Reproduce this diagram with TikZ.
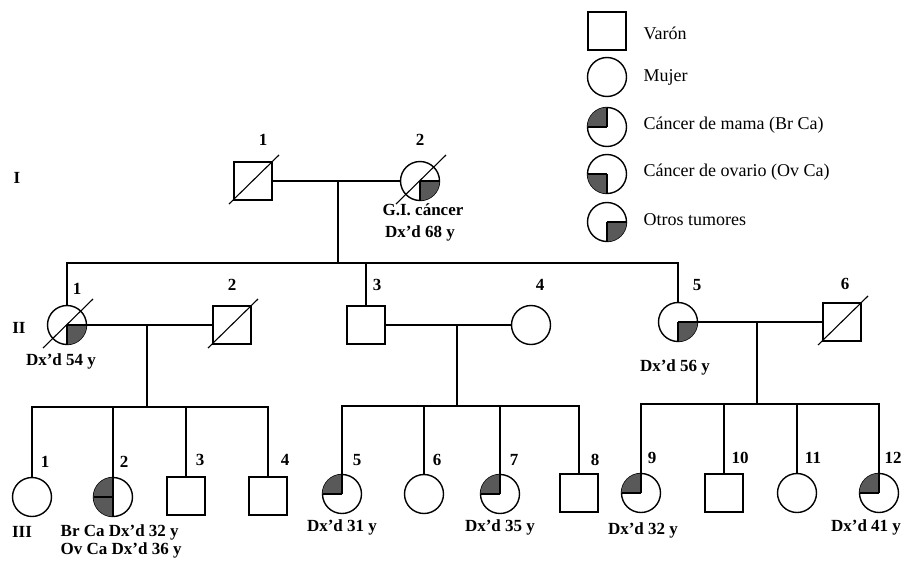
\documentclass[tikz,border=0pt]{standalone}
\usepackage{fontspec}
\setmainfont{Liberation Serif}
\usetikzlibrary{calc}
\newcommand{\qul}[1]{\fill[qfill] (#1.center) -- (#1.north) arc[start angle=90,end angle=180,radius=19.5pt] -- cycle;}
\newcommand{\qll}[1]{\fill[qfill] (#1.center) -- (#1.west) arc[start angle=180,end angle=270,radius=19.5pt] -- cycle;}
\newcommand{\qlr}[1]{\fill[qfill] (#1.center) -- (#1.south) arc[start angle=270,end angle=360,radius=19.5pt] -- cycle;}
\newcommand{\dead}[1]{\draw[deadline] ($(#1.center)+(-24,23)$) -- ($(#1.center)+(26,-26)$);}
\begin{document}
\begin{tikzpicture}[x=1pt,y=-1pt,line width=1.4pt,
  male/.style={draw,rectangle,minimum size=38pt,inner sep=0pt,outer sep=0pt},
  female/.style={draw,circle,minimum size=39pt,inner sep=0pt,outer sep=0pt},
  lbl/.style={font=\fontsize{17}{19}\selectfont\bfseries,inner sep=0pt},
  leg/.style={font=\fontsize{18}{20}\selectfont,anchor=west,inner sep=0pt},
  qfill/.style={fill=black!65},
  deadline/.style={line width=1.1pt}]
\useasboundingbox (0,0) rectangle (907,562);

% ---------- legend ----------
\node[male] (Lm) at (607,31) {};
\node[female] (Lf) at (607,77) {};
\node[female] (Lb) at (607,127) {};
\node[female] (Lo) at (607,174) {};
\node[female] (Lt) at (607,222) {};
\qul{Lb}\qll{Lo}\qlr{Lt}
\draw (Lb.center) -- (Lb.north); \draw (Lb.center) -- (Lb.west);
\draw (Lo.center) -- (Lo.south); \draw (Lo.center) -- (Lo.west);
\draw (Lt.center) -- (Lt.south); \draw (Lt.center) -- (Lt.east);
\node[leg] (Lmt) at (643,33) {Varón};
\node[leg] (Lft) at (643,77) {Mujer};
\node[leg] (Lbt) at (643,125) {Cáncer de mama (Br Ca)};
\node[leg] (Lot) at (643,172) {Cáncer de ovario (Ov Ca)};
\node[leg] (Ltt) at (643,220) {Otros tumores};

% ---------- generation labels ----------
\node[lbl] (gI) at (17,178) {I};
\node[lbl] (gII) at (19,328) {II};
\node[lbl] (gIII) at (22,532) {III};

% ---------- generation I ----------
\node[male] (I1) at (253,181) {};
\node[female] (I2) at (420,181) {};
\qlr{I2}
\draw (I2.center) -- (I2.south); \draw (I2.center) -- (I2.east);
\dead{I1}\dead{I2}
\node[lbl] (nI1) at (263,140) {1};
\node[lbl] (nI2) at (420,140) {2};
\node[lbl] (tI2a) at (423,210) {G.I. cáncer};
\node[lbl] (tI2b) at (420,233) {Dx’d 68 y};
\draw (I1) -- (I2);
\coordinate (mI) at (338,181);
\coordinate (sII) at (338,263);
\draw (mI) -- (sII);

% ---------- generation II ----------
\node[female] (II1) at (67,325) {};
\node[male] (II2) at (232,325) {};
\node[male] (II3) at (366,325) {};
\node[female] (II4) at (531,325) {};
\node[female] (II5) at (678,322) {};
\node[male] (II6) at (842,322) {};
\qlr{II1}\qlr{II5}
\draw (II1.center) -- (II1.south); \draw (II1.center) -- (II1.east);
\draw (II5.center) -- (II5.south); \draw (II5.center) -- (II5.east);
\dead{II1}\dead{II2}\dead{II6}
\draw (II1.north) -- (II1.north |- sII) -- (II5.north |- sII) -- (II5.north);
\draw (II3.north) -- (II3.north |- sII);
\node[lbl] (nII1) at (77,289) {1};
\node[lbl] (nII2) at (232,285) {2};
\node[lbl] (nII3) at (377,285) {3};
\node[lbl] (nII4) at (540,285) {4};
\node[lbl] (nII5) at (697,285) {5};
\node[lbl] (nII6) at (845,284) {6};
\node[lbl] (tII1) at (61,361) {Dx’d 54 y};
\node[lbl] (tII5) at (675,367) {Dx’d 56 y};
\draw (II1) -- (II2);
\draw (II3) -- (II4);
\draw (II5) -- (II6);
\coordinate (mA) at (147,325);
\coordinate (sA) at (147,407);
\coordinate (mB) at (457,325);
\coordinate (sB) at (457,406);
\coordinate (mC) at (757,322);
\coordinate (sC) at (757,404);
\draw (mA) -- (sA);
\draw (mB) -- (sB);
\draw (mC) -- (sC);

% ---------- generation III ----------
\node[female] (III1) at (32,497) {};
\node[female] (III2) at (113,497) {};
\node[male] (III3) at (186,496) {};
\node[male] (III4) at (268,496) {};
\node[female] (III5) at (342,494) {};
\node[female] (III6) at (424,494) {};
\node[female] (III7) at (500,494) {};
\node[male] (III8) at (579,493) {};
\node[female] (III9) at (641,493) {};
\node[male] (III10) at (724,493) {};
\node[female] (III11) at (797,493) {};
\node[female] (III12) at (879,493) {};
\qul{III2}\qll{III2}\qul{III5}\qul{III7}\qul{III9}\qul{III12}
\draw (III2.north) -- (III2.south); \draw (III2.center) -- (III2.west);
\foreach \n in {III5,III7,III9,III12}{\draw (\n.center) -- (\n.north); \draw (\n.center) -- (\n.west);}

\draw (III1.north) -- (III1.north |- sA) -- (III4.north |- sA) -- (III4.north);
\draw (III2.north) -- (III2.north |- sA);
\draw (III3.north) -- (III3.north |- sA);
\draw (III5.north) -- (III5.north |- sB) -- (III8.north |- sB) -- (III8.north);
\draw (III6.north) -- (III6.north |- sB);
\draw (III7.north) -- (III7.north |- sB);
\draw (III9.north) -- (III9.north |- sC) -- (III12.north |- sC) -- (III12.north);
\draw (III10.north) -- (III10.north |- sC);
\draw (III11.north) -- (III11.north |- sC);

\node[lbl] (nIII1) at (45,462) {1};
\node[lbl] (nIII2) at (124,462) {2};
\node[lbl] (nIII3) at (200,460) {3};
\node[lbl] (nIII4) at (285,460) {4};
\node[lbl] (nIII5) at (357,460) {5};
\node[lbl] (nIII6) at (437,460) {6};
\node[lbl] (nIII7) at (514,460) {7};
\node[lbl] (nIII8) at (595,460) {8};
\node[lbl] (nIII9) at (652,458) {9};
\node[lbl] (nIII10) at (740,458) {10};
\node[lbl] (nIII11) at (813,458) {11};
\node[lbl] (nIII12) at (893,458) {12};

\node[lbl,anchor=west] (tIII2a) at (60,532) {Br Ca Dx’d 32 y};
\node[lbl,anchor=west] (tIII2b) at (60,550) {Ov Ca Dx’d 36 y};
\node[lbl] (tIII5) at (342,527) {Dx’d 31 y};
\node[lbl] (tIII7) at (500,527) {Dx’d 35 y};
\node[lbl] (tIII9) at (643,530) {Dx’d 32 y};
\node[lbl] (tIII12) at (866,527) {Dx’d 41 y};
\end{tikzpicture}
\end{document}
